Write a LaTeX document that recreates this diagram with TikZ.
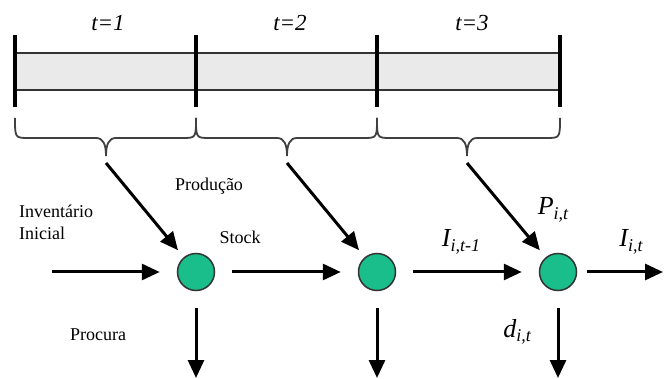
\documentclass[tikz,border=0pt]{standalone}
\usepackage{fontspec}
\setmainfont{Liberation Serif}
\usetikzlibrary{arrows.meta}
\definecolor{nodegreen}{RGB}{26,190,138}
\definecolor{barfill}{RGB}{234,234,234}
% italic variable with a lowered italic index
\newcommand\mvar[2]{{\fontsize{26}{26}\selectfont\itshape #1}\raisebox{-4.5pt}{\fontsize{18}{18}\selectfont\itshape #2}}
\begin{document}
\begin{tikzpicture}[x=1pt,y=-1pt,
  bar/.style={line width=3.5pt},
  rail/.style={line width=1.6pt, draw=black!80},
  bracepath/.style={line width=1.8pt, draw=black!75},
  flow/.style={line width=3pt, -{Triangle[length=18pt,width=16pt]}},
  site/.style={circle, draw=black!80, line width=1.5pt, fill=nodegreen,
    minimum size=37pt, inner sep=0pt},
  lbl/.style={font=\fontsize{18}{22}\selectfont, inner sep=0pt},
  per/.style={font=\fontsize{23}{25}\selectfont\itshape, inner sep=0pt},
  sym/.style={inner sep=0pt},
]
\useasboundingbox (0,0) rectangle (664,379);

% time line with its three periods
\fill[barfill] (15,53) rectangle (560,90);
\draw[rail] (15,53) -- (560,53) (15,90) -- (560,90);
\foreach \x in {15,196,377,560} \draw[bar] (\x,35) -- (\x,107);

\node[per] (t1) at (108,23) {t=1};
\node[per] (t2) at (290,23) {t=2};
\node[per] (t3) at (472,23) {t=3};

% braces under each period
\foreach \a/\m/\b in {15/106/196, 196/287/377, 377/467/560}
  \draw[bracepath] (\a,118) .. controls (\a,138) and (\a,138) .. (\a+14,138)
    -- (\m-10,138) .. controls (\m-3,138) and (\m,144) .. (\m,156)
    .. controls (\m,144) and (\m+3,138) .. (\m+10,138)
    -- (\b-14,138) .. controls (\b,138) and (\b,138) .. (\b,118);

% stock nodes
\node[site] (c1) at (196,272) {};
\node[site] (c2) at (377,272) {};
\node[site] (c3) at (558,272) {};

\coordinate (p1) at (106,163);
\coordinate (p2) at (287,163);
\coordinate (p3) at (467,163);
\coordinate (in) at (52,272);
\coordinate (out) at (663,272);
\coordinate (d1) at (196,378);
\coordinate (d2) at (377,378);
\coordinate (d3) at (558,378);

% production inflows
\draw[flow, shorten >=9pt] (p1) -- (c1);
\draw[flow, shorten >=9pt] (p2) -- (c2);
\draw[flow, shorten >=9pt] (p3) -- (c3);

% stock carried between periods
\draw[flow, shorten >=17pt] (in) -- (c1);
\draw[flow, shorten <=17pt, shorten >=17pt] (c1) -- (c2);
\draw[flow, shorten <=17pt, shorten >=17pt] (c2) -- (c3);
\draw[flow, shorten <=10pt] (c3) -- (out);

% demand outflows
\draw[flow, shorten <=17pt] (c1) -- (d1);
\draw[flow, shorten <=17pt] (c2) -- (d2);
\draw[flow, shorten <=17pt] (c3) -- (d3);

% labels
\node[lbl] (prod) at (209,186) {Produção};
\node[lbl, align=left, anchor=north west] (inv) at (19,205) {Inventário\\Inicial};
\node[lbl] (stock) at (240,237) {Stock};
\node[lbl] (proc) at (98,335) {Procura};

\node[sym] (P) at (553,210) {\mvar{P}{i,t}};
\node[sym] (Iprev) at (461,242) {\mvar{I}{i,t-1}};
\node[sym] (Icur) at (631,242) {\mvar{I}{i,t}};
\node[sym] (d) at (517,332) {\mvar{d}{i,t}};
\end{tikzpicture}
\end{document}
